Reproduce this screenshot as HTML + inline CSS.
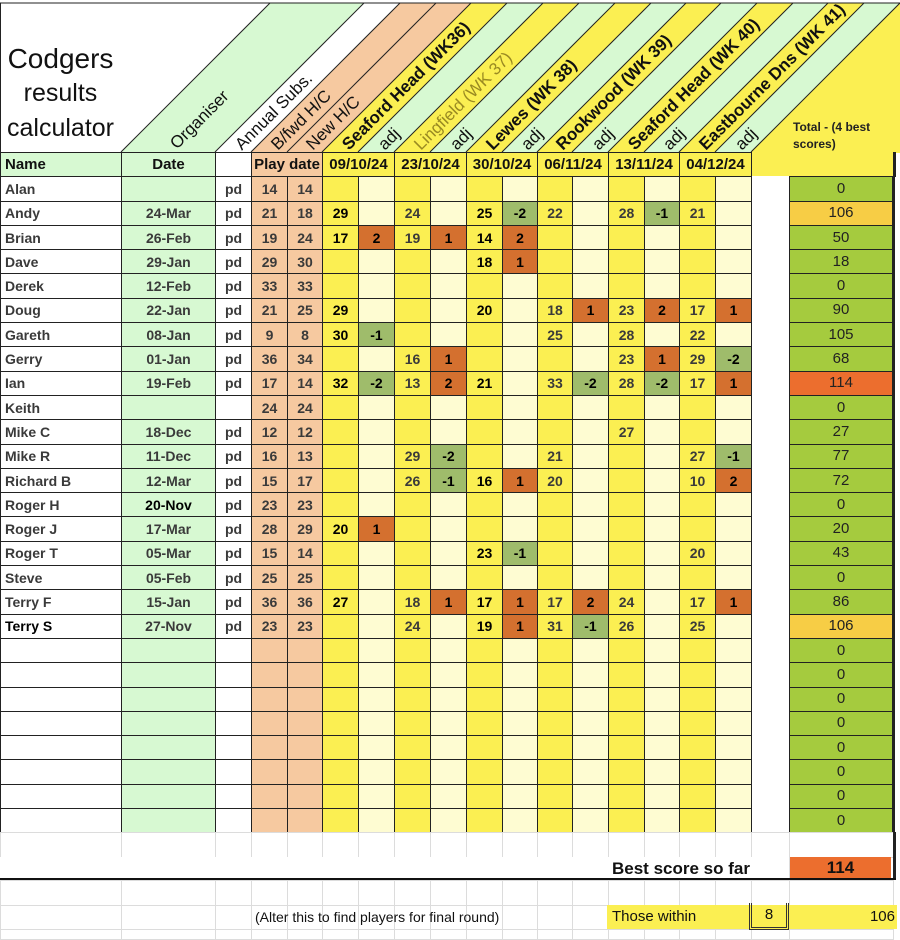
<!DOCTYPE html>
<html><head><meta charset="utf-8"><style>
body{margin:0;width:900px;height:936px;background:#fff;position:relative;overflow:hidden;font-family:"Liberation Sans",Arial,sans-serif;}
.abs{position:absolute;}
table{border-collapse:collapse;table-layout:fixed;position:absolute;left:0;}
#main{top:152px;}
#main tr{height:24.3px;}
#main td{border:1px solid #222;padding:0;font-size:14px;font-weight:bold;color:#3a3a3a;text-align:center;line-height:18px;white-space:nowrap;overflow:hidden;}
#main td:nth-child(1){text-align:left;padding-left:4px;background:#fff;}
#main td:nth-child(2){background:#d7f9d2;}
#main td:nth-child(3){background:#fff;}
#main td:nth-child(4),#main td:nth-child(5){background:#f6c9a0;}
#main td:nth-child(6),#main td:nth-child(8),#main td:nth-child(10),#main td:nth-child(12),#main td:nth-child(14),#main td:nth-child(16){background:#fbef52;}
#main td:nth-child(7),#main td:nth-child(9),#main td:nth-child(11),#main td:nth-child(13),#main td:nth-child(15),#main td:nth-child(17){background:#fefcd2;color:#000;}
#main td:nth-child(6),#main td:nth-child(10){color:#000;}
#main td:nth-child(18){border:none;background:#fff;}
#main td:nth-child(19){background:#a5cb3e;font-weight:normal;color:#222;border-right:3px solid #222;font-size:15px;}
#main td.ao{background:#d4702f !important;}
#main td.ag{background:#9fbc6b !important;}
#main td.ta{background:#f7cd45 !important;}
#main td.tr{background:#ec6e2e !important;}
#main tr.h td{background:#d7f9d2;color:#111;font-size:15px;}
#main tr.h td.w{background:#fff;}
#main tr.h td.or{background:#f6c9a0 !important;}
#main tr.h td.ye{background:#fbef52 !important;}
#main tr.h td.yr{background:#fbef52 !important;border:none;border-right:3px solid #222;}
#low{top:832px;}
#low td{border:1px solid #dcdcdc;padding:0;}
</style></head><body>
<svg class="abs" style="left:0;top:0" width="900" height="153">
<rect x="0" y="0" width="900" height="153" fill="#fff"/>
<polygon points="121,152 215,152 364,3 270,3" fill="#d7f9d2"/>
<polygon points="251,152 322,152 471,3 400,3" fill="#f6c9a0"/>
<polygon points="322,152 358,152 507,3 471,3" fill="#fbef52"/>
<polygon points="358,152 394,152 543,3 507,3" fill="#d7f9d2"/>
<polygon points="394,152 430,152 579,3 543,3" fill="#fbef52"/>
<polygon points="430,152 466,152 615,3 579,3" fill="#d7f9d2"/>
<polygon points="466,152 502,152 651,3 615,3" fill="#fbef52"/>
<polygon points="502,152 537,152 686,3 651,3" fill="#d7f9d2"/>
<polygon points="537,152 572,152 721,3 686,3" fill="#fbef52"/>
<polygon points="572,152 608,152 757,3 721,3" fill="#d7f9d2"/>
<polygon points="608,152 644,152 793,3 757,3" fill="#fbef52"/>
<polygon points="644,152 679,152 828,3 793,3" fill="#d7f9d2"/>
<polygon points="679,152 715,152 864,3 828,3" fill="#fbef52"/>
<polygon points="715,152 751,152 900,3 864,3" fill="#d7f9d2"/>
<polygon points="751,152 900,3 900,153 751,153" fill="#fbef52"/>
<g stroke="#222" stroke-width="1">
<line x1="0" y1="3" x2="900" y2="3"/>
<line x1="0.5" y1="3" x2="0.5" y2="152"/>
<line x1="121" y1="152" x2="270" y2="3"/>
<line x1="215" y1="152" x2="364" y2="3"/>
<line x1="251" y1="152" x2="400" y2="3"/>
<line x1="287" y1="152" x2="436" y2="3"/>
<line x1="322" y1="152" x2="471" y2="3"/>
<line x1="358" y1="152" x2="507" y2="3"/>
<line x1="394" y1="152" x2="543" y2="3"/>
<line x1="430" y1="152" x2="579" y2="3"/>
<line x1="466" y1="152" x2="615" y2="3"/>
<line x1="502" y1="152" x2="651" y2="3"/>
<line x1="537" y1="152" x2="686" y2="3"/>
<line x1="572" y1="152" x2="721" y2="3"/>
<line x1="608" y1="152" x2="757" y2="3"/>
<line x1="644" y1="152" x2="793" y2="3"/>
<line x1="679" y1="152" x2="828" y2="3"/>
<line x1="715" y1="152" x2="864" y2="3"/>
<line x1="751" y1="152" x2="900" y2="3"/>
</g>
<g style="font-family:'Liberation Sans',Arial,sans-serif;font-size:17px;" fill="#111" dominant-baseline="central">
<text transform="translate(173,146) rotate(-45)">Organiser</text>
<text transform="translate(238,147) rotate(-45)">Annual Subs.</text>
<text transform="translate(274,147) rotate(-45)">B/fwd H/C</text>
<text transform="translate(309,147) rotate(-45)">New H/C</text>
<text transform="translate(345,147) rotate(-45)" font-weight="bold">Seaford Head (WK36)</text>
<text transform="translate(381,147) rotate(-45)">adj</text>
<text transform="translate(417,147) rotate(-45)" fill="#9a8a22">Lingfield (WK 37)</text>
<text transform="translate(453,147) rotate(-45)">adj</text>
<text transform="translate(489,147) rotate(-45)" font-weight="bold">Lewes (WK 38)</text>
<text transform="translate(524,147) rotate(-45)">adj</text>
<text transform="translate(559,147) rotate(-45)" font-weight="bold">Rookwood (WK 39)</text>
<text transform="translate(595,147) rotate(-45)">adj</text>
<text transform="translate(631,147) rotate(-45)" font-weight="bold">Seaford Head (WK 40)</text>
<text transform="translate(666,147) rotate(-45)">adj</text>
<text transform="translate(702,147) rotate(-45)" font-weight="bold">Eastbourne Dns (WK 41)</text>
<text transform="translate(738,147) rotate(-45)">adj</text>
</g>
<text x="793" y="131" style="font-family:'Liberation Sans',Arial,sans-serif;font-size:12px;font-weight:bold" fill="#222">Total  - (4 best</text>
<text x="793" y="148" style="font-family:'Liberation Sans',Arial,sans-serif;font-size:12px;font-weight:bold" fill="#222">scores)</text>
</svg>
<div class="abs" style="left:0;width:121px;top:42px;text-align:center;font-size:28px;line-height:33px;color:#111;">Codgers<br><span style="font-size:25px">results</span><br><span style="font-size:25px">calculator</span></div>

<table id="main">
<colgroup><col style="width:121px"><col style="width:94px"><col style="width:36px"><col style="width:36px"><col style="width:35px"><col style="width:36px"><col style="width:36px"><col style="width:36px"><col style="width:36px"><col style="width:36px"><col style="width:35px"><col style="width:35px"><col style="width:36px"><col style="width:36px"><col style="width:35px"><col style="width:36px"><col style="width:36px"><col style="width:38px"><col style="width:104px"></colgroup>
<tr class="h"><td>Name</td><td>Date</td><td class="w"></td><td colspan="2" class="or">Play date</td><td colspan="2" class="ye">09/10/24</td><td colspan="2" class="ye">23/10/24</td><td colspan="2" class="ye">30/10/24</td><td colspan="2" class="ye">06/11/24</td><td colspan="2" class="ye">13/11/24</td><td colspan="2" class="ye">04/12/24</td><td colspan="2" class="yr"></td></tr>
<tr><td>Alan</td><td></td><td>pd</td><td>14</td><td>14</td><td></td><td></td><td></td><td></td><td></td><td></td><td></td><td></td><td></td><td></td><td></td><td></td><td></td><td>0</td></tr>
<tr><td>Andy</td><td>24-Mar</td><td>pd</td><td>21</td><td>18</td><td>29</td><td></td><td>24</td><td></td><td>25</td><td class="ag">-2</td><td>22</td><td></td><td>28</td><td class="ag">-1</td><td>21</td><td></td><td></td><td class="ta">106</td></tr>
<tr><td>Brian</td><td>26-Feb</td><td>pd</td><td>19</td><td>24</td><td>17</td><td class="ao">2</td><td>19</td><td class="ao">1</td><td>14</td><td class="ao">2</td><td></td><td></td><td></td><td></td><td></td><td></td><td></td><td>50</td></tr>
<tr><td>Dave</td><td>29-Jan</td><td>pd</td><td>29</td><td>30</td><td></td><td></td><td></td><td></td><td>18</td><td class="ao">1</td><td></td><td></td><td></td><td></td><td></td><td></td><td></td><td>18</td></tr>
<tr><td>Derek</td><td>12-Feb</td><td>pd</td><td>33</td><td>33</td><td></td><td></td><td></td><td></td><td></td><td></td><td></td><td></td><td></td><td></td><td></td><td></td><td></td><td>0</td></tr>
<tr><td>Doug</td><td>22-Jan</td><td>pd</td><td>21</td><td>25</td><td>29</td><td></td><td></td><td></td><td>20</td><td></td><td>18</td><td class="ao">1</td><td>23</td><td class="ao">2</td><td>17</td><td class="ao">1</td><td></td><td>90</td></tr>
<tr><td>Gareth</td><td>08-Jan</td><td>pd</td><td>9</td><td>8</td><td>30</td><td class="ag">-1</td><td></td><td></td><td></td><td></td><td>25</td><td></td><td>28</td><td></td><td>22</td><td></td><td></td><td>105</td></tr>
<tr><td>Gerry</td><td>01-Jan</td><td>pd</td><td>36</td><td>34</td><td></td><td></td><td>16</td><td class="ao">1</td><td></td><td></td><td></td><td></td><td>23</td><td class="ao">1</td><td>29</td><td class="ag">-2</td><td></td><td>68</td></tr>
<tr><td>Ian</td><td>19-Feb</td><td>pd</td><td>17</td><td>14</td><td>32</td><td class="ag">-2</td><td>13</td><td class="ao">2</td><td>21</td><td></td><td>33</td><td class="ag">-2</td><td>28</td><td class="ag">-2</td><td>17</td><td class="ao">1</td><td></td><td class="tr">114</td></tr>
<tr><td>Keith</td><td></td><td></td><td>24</td><td>24</td><td></td><td></td><td></td><td></td><td></td><td></td><td></td><td></td><td></td><td></td><td></td><td></td><td></td><td>0</td></tr>
<tr><td>Mike C</td><td>18-Dec</td><td>pd</td><td>12</td><td>12</td><td></td><td></td><td></td><td></td><td></td><td></td><td></td><td></td><td>27</td><td></td><td></td><td></td><td></td><td>27</td></tr>
<tr><td>Mike R</td><td>11-Dec</td><td>pd</td><td>16</td><td>13</td><td></td><td></td><td>29</td><td class="ag">-2</td><td></td><td></td><td>21</td><td></td><td></td><td></td><td>27</td><td class="ag">-1</td><td></td><td>77</td></tr>
<tr><td>Richard B</td><td>12-Mar</td><td>pd</td><td>15</td><td>17</td><td></td><td></td><td>26</td><td class="ag">-1</td><td>16</td><td class="ao">1</td><td>20</td><td></td><td></td><td></td><td>10</td><td class="ao">2</td><td></td><td>72</td></tr>
<tr><td>Roger H</td><td style="color:#000">20-Nov</td><td>pd</td><td>23</td><td>23</td><td></td><td></td><td></td><td></td><td></td><td></td><td></td><td></td><td></td><td></td><td></td><td></td><td></td><td>0</td></tr>
<tr><td>Roger J</td><td>17-Mar</td><td>pd</td><td>28</td><td>29</td><td>20</td><td class="ao">1</td><td></td><td></td><td></td><td></td><td></td><td></td><td></td><td></td><td></td><td></td><td></td><td>20</td></tr>
<tr><td>Roger T</td><td>05-Mar</td><td>pd</td><td>15</td><td>14</td><td></td><td></td><td></td><td></td><td>23</td><td class="ag">-1</td><td></td><td></td><td></td><td></td><td>20</td><td></td><td></td><td>43</td></tr>
<tr><td>Steve</td><td>05-Feb</td><td>pd</td><td>25</td><td>25</td><td></td><td></td><td></td><td></td><td></td><td></td><td></td><td></td><td></td><td></td><td></td><td></td><td></td><td>0</td></tr>
<tr><td>Terry F</td><td>15-Jan</td><td>pd</td><td>36</td><td>36</td><td>27</td><td></td><td>18</td><td class="ao">1</td><td>17</td><td class="ao">1</td><td>17</td><td class="ao">2</td><td>24</td><td></td><td>17</td><td class="ao">1</td><td></td><td>86</td></tr>
<tr><td style="color:#000">Terry S</td><td>27-Nov</td><td>pd</td><td>23</td><td>23</td><td></td><td></td><td>24</td><td></td><td>19</td><td class="ao">1</td><td>31</td><td class="ag">-1</td><td>26</td><td></td><td>25</td><td></td><td></td><td class="ta">106</td></tr>
<tr><td></td><td></td><td></td><td></td><td></td><td></td><td></td><td></td><td></td><td></td><td></td><td></td><td></td><td></td><td></td><td></td><td></td><td></td><td>0</td></tr>
<tr><td></td><td></td><td></td><td></td><td></td><td></td><td></td><td></td><td></td><td></td><td></td><td></td><td></td><td></td><td></td><td></td><td></td><td></td><td>0</td></tr>
<tr><td></td><td></td><td></td><td></td><td></td><td></td><td></td><td></td><td></td><td></td><td></td><td></td><td></td><td></td><td></td><td></td><td></td><td></td><td>0</td></tr>
<tr><td></td><td></td><td></td><td></td><td></td><td></td><td></td><td></td><td></td><td></td><td></td><td></td><td></td><td></td><td></td><td></td><td></td><td></td><td>0</td></tr>
<tr><td></td><td></td><td></td><td></td><td></td><td></td><td></td><td></td><td></td><td></td><td></td><td></td><td></td><td></td><td></td><td></td><td></td><td></td><td>0</td></tr>
<tr><td></td><td></td><td></td><td></td><td></td><td></td><td></td><td></td><td></td><td></td><td></td><td></td><td></td><td></td><td></td><td></td><td></td><td></td><td>0</td></tr>
<tr><td></td><td></td><td></td><td></td><td></td><td></td><td></td><td></td><td></td><td></td><td></td><td></td><td></td><td></td><td></td><td></td><td></td><td></td><td>0</td></tr>
<tr><td></td><td></td><td></td><td></td><td></td><td></td><td></td><td></td><td></td><td></td><td></td><td></td><td></td><td></td><td></td><td></td><td></td><td></td><td>0</td></tr>
</table>
<div class="abs" style="left:752px;top:152px;width:141px;height:24px;background:#fbef52;"></div>
<div class="abs" style="left:893px;top:152px;width:3px;height:25px;background:#222;"></div>

<table id="low">
<colgroup><col style="width:121px"><col style="width:94px"><col style="width:36px"><col style="width:36px"><col style="width:35px"><col style="width:36px"><col style="width:36px"><col style="width:36px"><col style="width:36px"><col style="width:36px"><col style="width:35px"><col style="width:35px"><col style="width:36px"><col style="width:36px"><col style="width:35px"><col style="width:36px"><col style="width:36px"><col style="width:38px"><col style="width:104px"></colgroup>
<tr style="height:25px"><td></td><td></td><td></td><td></td><td></td><td></td><td></td><td></td><td></td><td></td><td></td><td></td><td></td><td></td><td></td><td></td><td></td><td></td><td></td></tr>
<tr style="height:23px"><td></td><td></td><td></td><td></td><td></td><td></td><td></td><td></td><td></td><td></td><td></td><td></td><td></td><td></td><td></td><td></td><td></td><td></td><td></td></tr>
<tr style="height:25px"><td></td><td></td><td></td><td></td><td></td><td></td><td></td><td></td><td></td><td></td><td></td><td></td><td></td><td></td><td></td><td></td><td></td><td></td><td></td></tr>
<tr style="height:24px"><td></td><td></td><td></td><td></td><td></td><td></td><td></td><td></td><td></td><td></td><td></td><td></td><td></td><td></td><td></td><td></td><td></td><td></td><td></td></tr>
<tr style="height:10px"><td></td><td></td><td></td><td></td><td></td><td></td><td></td><td></td><td></td><td></td><td></td><td></td><td></td><td></td><td></td><td></td><td></td><td></td><td></td></tr>
</table>

<div class="abs" style="left:0;top:857px;width:789px;height:21px;background:#fff;"></div>
<div class="abs" style="left:612px;top:857px;height:23px;line-height:23px;font-size:17px;font-weight:bold;color:#111;">Best score so far</div>
<div class="abs" style="left:790px;top:857px;width:101px;height:21px;line-height:21px;background:#ec6e2e;text-align:center;font-size:17px;font-weight:bold;color:#111;">114</div>
<div class="abs" style="left:893px;top:832px;width:3px;height:48px;background:#222;"></div>
<div class="abs" style="left:0;top:878px;width:896px;height:2px;background:#111;"></div>

<div class="abs" style="left:255px;top:905px;height:24px;line-height:24px;font-size:14px;color:#111;">(Alter this to find players for final round)</div>
<div class="abs" style="left:607px;top:905px;width:290px;height:24px;background:#fbef52;"></div>
<div class="abs" style="left:612px;top:905px;height:24px;line-height:24px;font-size:15px;color:#111;">Those within</div>
<div class="abs" style="left:749px;top:903px;width:34px;height:24px;border:3px double #333;border-top:none;line-height:24px;text-align:center;font-size:15px;color:#111;">8</div>
<div class="abs" style="left:790px;top:905px;width:105px;height:24px;line-height:24px;text-align:right;font-size:15px;color:#111;">106</div>
</body></html>
